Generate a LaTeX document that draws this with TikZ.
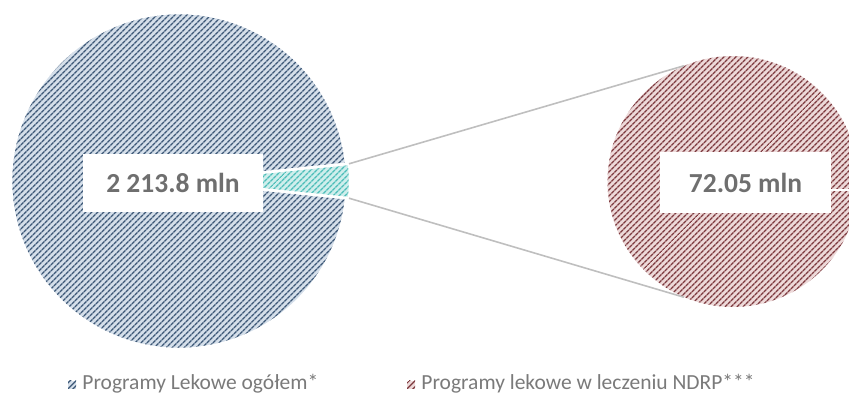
\documentclass[tikz,border=0pt]{standalone}
\usepackage{fontspec}
\setmainfont{Carlito}
\usetikzlibrary{patterns.meta,positioning}
\definecolor{bluebase}{HTML}{D5DFEA}
\definecolor{bluestripe}{HTML}{3D5877}
\definecolor{redbase}{HTML}{EDD9D9}
\definecolor{redstripe}{HTML}{7D3A3F}
\definecolor{tealbase}{HTML}{CFEEEC}
\definecolor{tealstripe}{HTML}{4CBDB8}
\definecolor{labelgray}{HTML}{6F6F6F}
\definecolor{legendgray}{HTML}{7A7A7A}
\definecolor{joingray}{HTML}{BFBFBF}
\begin{document}
\begin{tikzpicture}[x=1pt, y=1pt,
            hatch/.style 2 args = {
                preaction = {fill=#1},
                pattern = {Lines[angle=45, distance=4pt, line width=1.6pt]},
                pattern color = #2},
            slice/.style = {
                draw = white,
                line width = 2.5pt,
                line join = round},
            valbox/.style = {
                rectangle,
                fill = white,
                inner sep = 0pt,
                text = labelgray,
                font = \bfseries\fontsize{27.5}{30}\selectfont},
            key/.style = {
                rectangle,
                inner sep = 0pt,
                minimum size = 8pt},
            legend/.style = {
                text = legendgray,
                inner sep = 0pt,
                font = \fontsize{21.5}{24}\selectfont},
            joinline/.style = {
                draw = joingray,
                line width = 1.6pt}]
        \useasboundingbox (0,0) rectangle (849,394);
        % Main pie and the cut slice
        \path [slice, hatch={bluebase}{bluestripe}] (179,213) -- ++(5.86:168)
            arc [start angle=5.86, end angle=354.14, radius=168] -- cycle;
        \path [slice, hatch={tealbase}{tealstripe}] (182,213) -- ++(-5.86:168)
            arc [start angle=-5.86, end angle=5.86, radius=168] -- cycle;
        \coordinate (wtop) at (349,230.2);
        \coordinate (wbot) at (349,195.8);

        % Second pie
        \node [circle, minimum size=251pt, inner sep=0pt, hatch={redbase}{redstripe}] (sub) at (733,212.5) {};

        % Joining lines
        \path [joinline] (wtop) -- (sub.113);
        \path [joinline] (wbot) -- (sub.-113);

        % Value labels
        \node [valbox, minimum width=180pt, minimum height=58pt] (total) at (173,211) {2 213.8 mln};
        \node [valbox, minimum width=171pt, minimum height=61pt] (part) at (745.5,211.5) {72.05 mln};
        \coordinate (lead) at (849,204);
        \draw [white, line width=1.2pt] ([yshift=-7.5pt]part.east) -- (lead);

        % Legend
        \node [key, hatch={bluebase}{bluestripe}] (keytotal) at (72,9.5) {};
        \node [legend, right=6pt of keytotal, yshift=0.5pt] (txttotal) {Programy Lekowe ogółem*};
        \node [key, hatch={redbase}{redstripe}] (keypart) at (411,9.5) {};
        \node [legend, right=6pt of keypart, yshift=0.5pt] (txtpart) {Programy lekowe w leczeniu NDRP***};
\end{tikzpicture}
\end{document}
